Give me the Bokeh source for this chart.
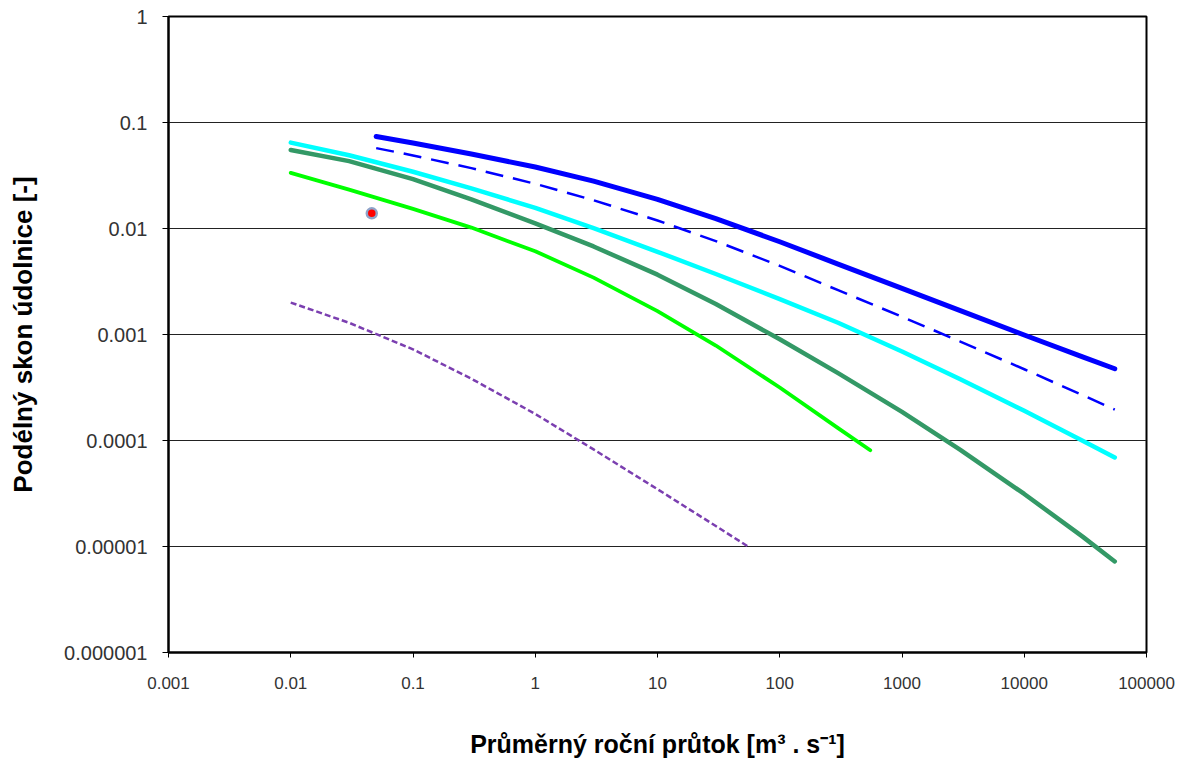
from bokeh.plotting import figure
from bokeh.models import FixedTicker, CustomJSTickFormatter, Range1d
from bokeh.embed import file_html
from bokeh.resources import INLINE

# ---------------- data ----------------
x_ticks = [0.001, 0.01, 0.1, 1, 10, 100, 1000, 10000, 100000]
x_tick_labels = ["0.001", "0.01", "0.1", "1", "10", "100", "1000", "10000", "100000"]
y_ticks = [0.000001, 0.00001, 0.0001, 0.001, 0.01, 0.1, 1]
y_tick_labels = ["0.000001", "0.00001", "0.0001", "0.001", "0.01", "0.1", "1"]

x_blue = [0.05, 0.1, 0.3, 1, 3, 10, 30, 100, 300, 1000, 3000, 10000, 30000, 55000]
y_blue = [0.0738, 0.064, 0.0505, 0.038, 0.02795, 0.01884, 0.01241, 0.0075, 0.00462,
          0.00272, 0.00168, 0.00099, 0.000616, 0.000475]

x_blue_dash = [0.05, 0.1, 0.3, 1, 3, 10, 30, 100, 300, 1000, 3000, 10000, 30000, 55000]
y_blue_dash = [0.0573, 0.0489, 0.0371, 0.0264, 0.01846, 0.0119, 0.00761, 0.00444, 0.00262,
               0.00147, 0.000858, 0.00047, 0.000268, 0.000196]

x_cyan = [0.01, 0.03, 0.1, 0.3, 1, 3, 10, 30, 100, 300, 1000, 3000, 10000, 30000, 55000]
y_cyan = [0.0646, 0.0491, 0.0343, 0.0239, 0.01567, 0.0101, 0.00603, 0.00372, 0.00216,
          0.00129, 0.000692, 0.000378, 0.000191, 0.0000997, 0.0000693]

x_teal = [0.01, 0.03, 0.1, 0.3, 1, 3, 10, 30, 100, 300, 1000, 3000, 10000, 30000, 55000]
y_teal = [0.055, 0.0432, 0.0292, 0.0188, 0.0112, 0.00677, 0.00367, 0.00194, 0.000902,
          0.000432, 0.000186, 0.0000817, 0.0000313, 0.0000124, 0.00000723]

x_green = [0.01, 0.03, 0.1, 0.3, 1, 3, 10, 30, 100, 300, 550]
y_green = [0.0335, 0.0233, 0.0153, 0.0102, 0.0061, 0.00344, 0.00166, 0.000787,
           0.000316, 0.000131, 0.0000809]

x_purple = [0.01, 0.03, 0.1, 0.3, 1, 3, 10, 30, 55]
y_purple = [0.002, 0.00129, 0.000724, 0.000383, 0.000178, 0.0000824, 0.0000347,
            0.0000156, 0.00001]

x_point = [0.046]
y_point = [0.0139]

# ---------------- figure ----------------
FONT = "Liberation Sans"

p = figure(width=1186, height=766, x_axis_type="log", y_axis_type="log",
           x_range=Range1d(0.001, 100000), y_range=Range1d(0.000001, 1),
           output_backend="svg", toolbar_location=None,
           min_border_left=168, min_border_right=40, min_border_top=16,
           min_border_bottom=114)
p.background_fill_color = "white"
p.border_fill_color = "white"
p.outline_line_color = "black"
p.outline_line_width = 2

fmt_code = """
let best = 0, bd = Infinity;
for (let i = 0; i < vals.length; i++) {
  const d = Math.abs(Math.log10(vals[i]) - Math.log10(tick));
  if (d < bd) { bd = d; best = i; }
}
return labs[best];
"""

xa = p.xaxis[0]
xa.ticker = FixedTicker(ticks=x_ticks, minor_ticks=[])
xa.formatter = CustomJSTickFormatter(args=dict(vals=x_ticks, labs=x_tick_labels), code=fmt_code)
xa.axis_label = "Průměrný roční průtok [m³ . s⁻¹]"
xa.axis_label_text_font = FONT
xa.axis_label_text_font_style = "bold"
xa.axis_label_text_font_size = "25px"
xa.axis_label_text_color = "black"
xa.axis_label_standoff = 38
xa.major_label_text_font = FONT
xa.major_label_text_font_size = "17px"
xa.major_label_text_color = "#333333"
xa.major_label_standoff = 19
xa.major_tick_out = 5
xa.major_tick_in = 0
xa.major_tick_line_color = "black"
xa.minor_tick_line_color = None
xa.axis_line_color = "black"
xa.axis_line_width = 2

ya = p.yaxis[0]
ya.ticker = FixedTicker(ticks=y_ticks, minor_ticks=[])
ya.formatter = CustomJSTickFormatter(args=dict(vals=y_ticks, labs=y_tick_labels), code=fmt_code)
ya.axis_label = "Podélný skon údolnice [-]"
ya.axis_label_text_font = FONT
ya.axis_label_text_font_style = "bold"
ya.axis_label_text_font_size = "26px"
ya.axis_label_text_color = "black"
ya.axis_label_standoff = 23
ya.major_label_text_font = FONT
ya.major_label_text_font_size = "20px"
ya.major_label_text_color = "#333333"
ya.major_label_standoff = 15
ya.major_tick_out = 6
ya.major_tick_in = 0
ya.major_tick_line_color = "black"
ya.minor_tick_line_color = None
ya.axis_line_color = "black"
ya.axis_line_width = 2

p.xgrid.grid_line_color = None
p.ygrid.grid_line_color = "#222222"
p.ygrid.grid_line_width = 1

# ---------------- series ----------------
p.line(x_purple, y_purple, line_color="#7B3FB0", line_width=2.5, line_dash="6 3")
p.line(x_green, y_green, line_color="#00FF00", line_width=3.8, line_cap="round", line_join="round")
p.line(x_teal, y_teal, line_color="#339966", line_width=4.5, line_cap="round", line_join="round")
p.line(x_cyan, y_cyan, line_color="#00FFFF", line_width=4.5, line_cap="round", line_join="round")
p.line(x_blue_dash, y_blue_dash, line_color="#0000FF", line_width=2.5, line_dash="18 10")
p.line(x_blue, y_blue, line_color="#0000FF", line_width=5, line_cap="round", line_join="round")
p.scatter(x_point, y_point, size=10, fill_color="#FF0000", line_color="#8FA3C9", line_width=2.5)

open("out.html", "w").write(file_html(p, INLINE))
